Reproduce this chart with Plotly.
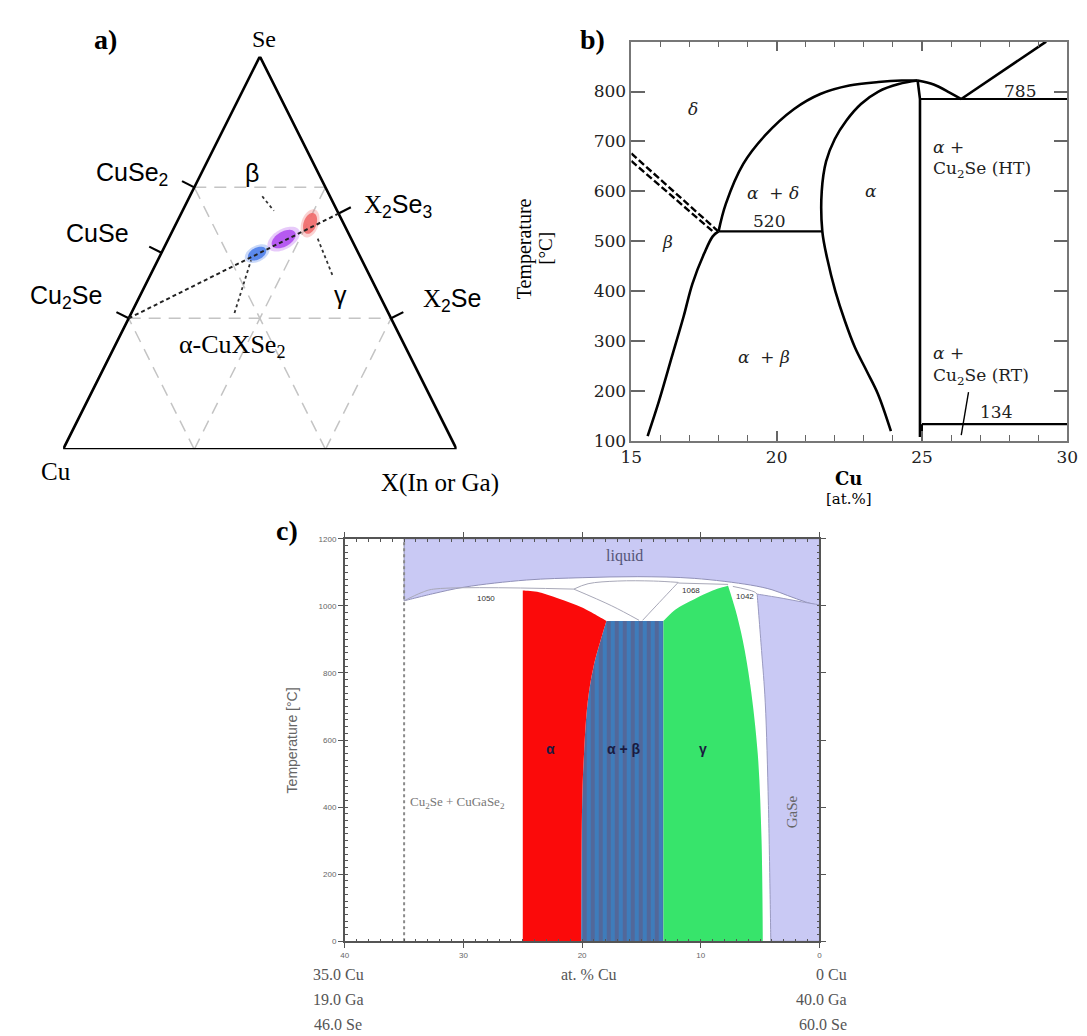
import numpy as np
import plotly.graph_objects as go

W, H = 1087, 1036

# ================= Panel a : Cu - X - Se ternary (at.% Cu, X, Se) =================
left_names = ["Cu<sub>2</sub>Se", "CuSe", "CuSe<sub>2</sub>"]
left_se = [100 / 3, 50.0, 200 / 3]            # Cu-Se binary (X = 0)
right_names = ["X<sub>2</sub>Se", "X<sub>2</sub>Se<sub>3</sub>"]
right_se = [100 / 3, 60.0]                    # X-Se binary (Cu = 0)
tie_cu = [200 / 3, 0.0]                       # Cu2Se -> X2Se3 pseudo-binary
tie_x = [0.0, 40.0]
tie_se = [100 / 3, 60.0]
phase_labels = ["α-CuXSe<sub>2</sub>", "β", "γ"]
phase_cu = [25.8, 17.2, 8.5]
phase_x = [24.4, 29.3, 34.0]
phase_se = [49.8, 53.5, 57.5]
phase_colors = ["#4f80ea", "#b04ef0", "#f06a6a"]
grid_levels = [100 / 3, 200 / 3]
# dotted leaders (label end -> phase end), order alpha, beta, gamma
lead_cu0 = [39.1, 17.2, 8.5]
lead_x0 = [26.2, 18.4, 37.9]
lead_se0 = [34.7, 64.4, 53.6]
lead_cu1 = [28.2, 16.1, 9.4]
lead_x1 = [23.7, 23.2, 46.3]
lead_se1 = [48.1, 60.7, 44.3]

# ================= Panel b : Cu2Se - In2Se3 section =================
b_beta_x = [15.56, 15.95, 16.4, 16.8, 17.1, 17.5, 17.8, 18.0]
b_beta_y = [110, 180, 270, 350, 415, 475, 510, 520]
b_delta_x = [18.0, 18.25, 18.85, 19.6, 20.6, 21.5, 22.5, 23.5, 24.3, 24.85]
b_delta_y = [520, 575, 655, 712, 765, 795, 812, 819, 822, 822]
b_alpha_x = [24.85, 24.2, 23.5, 22.9, 22.4, 22.0, 21.7, 21.55, 21.57, 21.74,
             22.02, 22.35, 22.69, 23.1, 23.48, 23.93]
b_alpha_y = [822, 815, 800, 775, 742, 705, 660, 600, 520, 465,
             400, 340, 288, 240, 195, 120]
b_liq_x = [24.85, 25.4, 25.95, 26.35]
b_liq_y = [822, 814, 798, 785]
b_liq2_x = [26.35, 29.27]
b_liq2_y = [785, 900]
b_cu2se_x = [24.85, 24.93, 24.93]
b_cu2se_y = [822, 785, 108]
b_iso_T = [520, 785, 134]
b_iso_x0 = [18.0, 24.93, 25.0]
b_iso_x1 = [21.57, 30.0, 30.0]
b_stub_x = [25.0, 25.0]
b_stub_y = [134, 108]
b_ptr_x = [26.6, 26.35]
b_ptr_y = [198, 112]
b_dash_x0 = [15.0, 15.0]
b_dash_y0 = [676, 661]
b_dash_x1 = [17.97, 17.88]
b_dash_y1 = [521, 516]
b_labels = ["<i>δ</i>", "<i>α</i>  + <i>δ</i>", "<i>α</i>", "520", "<i>β</i>",
            "<i>α</i>  + <i>β</i>", "785", "134"]
b_lab_x = [17.13, 19.89, 23.26, 19.72, 16.24, 19.55, 28.37, 27.53]
b_lab_y = [765, 597, 600, 540, 498, 268, 801, 159]
b_left_labels = ["<i>α</i> +", "Cu<sub>2</sub>Se (HT)", "<i>α</i> +", "Cu<sub>2</sub>Se (RT)"]
b_left_lab_x = [25.3, 25.3, 25.3, 25.3]
b_left_lab_y = [688, 643, 276, 229]
b_yticks = [100, 200, 300, 400, 500, 600, 700, 800]

# ================= Panel c : Cu2Se - GaSe section =================
c_liq_x = [35, 32.6, 29.9, 24.7, 20, 15.3, 10.55, 5.8, 4.0, 2.7, 1.2, 0]
c_liq_y = [1015, 1036, 1056, 1077, 1084, 1087, 1082, 1062, 1048, 1031, 1012, 1000]
c_alpha_top_x = [25.0, 25.0, 23.8, 22.0, 20.0, 17.95]
c_alpha_top_y = [0, 1046, 1042, 1022, 995, 955]
c_alpha_right_x = [17.95, 18.27, 19.06, 19.53, 19.84, 20.0, 20.06]
c_alpha_right_y = [955, 918, 815, 713, 559, 405, 0]
c_ab_right = 13.15
c_ab_top = 955
c_gamma_x = [13.15, 13.15, 12.1, 10.55, 9.0, 7.7, 7.09, 6.46, 5.83, 5.2, 4.88, 4.76]
c_gamma_y = [0, 955, 990, 1020, 1046, 1060, 990, 897, 764, 559, 303, 0]
c_gase_x = [4.1, 4.3, 4.57, 4.88, 5.25, 3.5, 1.5, 0, 0]
c_gase_y = [0, 405, 713, 867, 1035, 1025, 1012, 1003, 0]
c_sol_x = [35, 33.5, 32.5, 20.7]
c_sol_y = [1015, 1040, 1050, 1050]
c_v1_x = [20.7, 17.5, 15.2]
c_v1_y = [1050, 1000, 957]
c_v2_x = [11.9, 13.5, 14.9]
c_v2_y = [1070, 1010, 957]
c_arc_x = [20.7, 19.5, 17.0, 14.0, 11.9]
c_arc_y = [1050, 1066, 1074, 1074, 1070]
c_1068_x = [11.9, 7.7]
c_1068_y = [1068, 1064]
c_1042_x = [7.3, 5.5, 5.25]
c_1042_y = [1058, 1042, 1035]
c_dot_x = 35
c_iso_labels = ["1050", "1068", "1042"]
c_iso_lab_x = [28.1, 10.8, 6.3]
c_iso_lab_y = [1022, 1047, 1027]
c_phase_labels = ["α", "α + β", "γ"]
c_phase_lab_x = [22.7, 16.5, 9.8]
c_phase_lab_y = [574, 574, 574]
c_left_comp = ["35.0 Cu", "19.0 Ga", "46.0 Se"]
c_right_comp = ["0 Cu", "40.0 Ga", "60.0 Se"]

SERIF = "Liberation Serif"
SANS = "Liberation Sans"
BSER = "DejaVu Serif"

# ---------------- geometry helpers ----------------
AX_L, AX_R, AX_T, AX_B = 45.0, 446.7, 45.0, 443.3
SX, SY = AX_R - AX_L, AX_B - AX_T


def tern(cu, x, se):
    cu, x, se = np.asarray(cu, float), np.asarray(x, float), np.asarray(se, float)
    tot = cu + x + se
    return (x + se / 2) / tot, se / tot


def P(px, py):
    return px / W, 1 - py / H


def sharpen(xs, ys, corners):
    """repeat corner vertices so a spline path keeps them sharp"""
    ox, oy = [], []
    for i, (a, b) in enumerate(zip(xs, ys)):
        ox.append(a)
        oy.append(b)
        if i in corners:
            ox.append(a)
            oy.append(b)
    return ox, oy


fig = go.Figure()


def line(xs, ys, ax, color="black", width=2.5, dash="solid", fill=None, fillcolor=None,
         shape="linear", **kw):
    fig.add_trace(go.Scatter(x=list(xs), y=list(ys), mode="lines", xaxis="x" + ax, yaxis="y" + ax,
                             line=dict(color=color, width=width, dash=dash, shape=shape,
                                       simplify=False),
                             fill=fill, fillcolor=fillcolor, hoverinfo="skip", showlegend=False, **kw))


A, B, C = "", "2", "3"

# ---- panel a: grid ----
for g in grid_levels:
    for (c0, x0_, s0), (c1, x1_, s1) in [((100 - g, 0, g), (0, 100 - g, g)),
                                         ((100 - g, g, 0), (0, g, 100 - g)),
                                         ((g, 100 - g, 0), (g, 0, 100 - g))]:
        x0, y0 = tern(c0, x0_, s0)
        x1, y1 = tern(c1, x1_, s1)
        line([x0, x1], [y0, y1], A, "#c4c4c4", 1.5, "12px,8px")

# ---- panel a: triangle ----
vx, vy = tern([100, 0, 0, 100], [0, 0, 100, 0], [0, 100, 0, 0])
line(vx, vy, A, "black", 2.6)


def edge_tick(p0, p1, pt, outward_sign, length=14):
    ex = (p1[0] - p0[0]) * SX
    ey = (p1[1] - p0[1]) * SY
    n = np.hypot(ex, ey)
    nx, ny = -ey / n * outward_sign, ex / n * outward_sign
    return [pt[0], pt[0] + nx * length / SX], [pt[1], pt[1] + ny * length / SY]

cu_v = tern(100, 0, 0)
se_v = tern(0, 0, 100)
x_v = tern(0, 100, 0)
for s in left_se:
    tx, ty = edge_tick(cu_v, se_v, tern(100 - s, 0, s), 1)
    line(tx, ty, A, "black", 2.2)
for s in right_se:
    tx, ty = edge_tick(x_v, se_v, tern(0, 100 - s, s), -1)
    line(tx, ty, A, "black", 2.2)

# ---- ellipses ----
ell = [(10, 6, 27), (13.5, 7.5, 30), (11, 6.5, 70)]
t = np.linspace(0, 2 * np.pi, 72)
for (a_, b_, ang), cu, xx, se, col in zip(ell, phase_cu, phase_x, phase_se, phase_colors):
    cx, cy = tern(cu, xx, se)
    for scale, op in [(1.35, 0.3), (1.0, 0.9)]:
        r = np.deg2rad(ang)
        ex = scale * (a_ * np.cos(t) * np.cos(r) - b_ * np.sin(t) * np.sin(r))
        ey = scale * (a_ * np.cos(t) * np.sin(r) + b_ * np.sin(t) * np.cos(r))
        line(cx + ex / SX, cy + ey / SY, A, "rgba(0,0,0,0)", 0, fill="toself",
             fillcolor=col, opacity=op)

tx_, ty_ = tern(tie_cu, tie_x, tie_se)
line(tx_, ty_, A, "#222", 2.0, "4px,3px")

for i in range(3):
    x0, y0 = tern(lead_cu0[i], lead_x0[i], lead_se0[i])
    x1, y1 = tern(lead_cu1[i], lead_x1[i], lead_se1[i])
    line([x0, x1], [y0, y1], A, "#333", 1.8, "dot")

# ================= panel b drawing =================
BW = 2.6
line(b_beta_x, b_beta_y, B, "black", BW, shape="spline")
line(b_delta_x, b_delta_y, B, "black", BW, shape="spline")
line(b_alpha_x, b_alpha_y, B, "black", BW, shape="spline")
line(b_liq_x, b_liq_y, B, "black", BW, shape="spline")
line(b_liq2_x, b_liq2_y, B, "black", BW)
line(b_cu2se_x, b_cu2se_y, B, "black", BW)
for T, x0, x1 in zip(b_iso_T, b_iso_x0, b_iso_x1):
    line([x0, x1], [T, T], B, "black", 2.2)
line(b_stub_x, b_stub_y, B, "black", 2.0)
line(b_ptr_x, b_ptr_y, B, "black", 1.4)
for x0, y0, x1, y1 in zip(b_dash_x0, b_dash_y0, b_dash_x1, b_dash_y1):
    line([x0, x1], [y0, y1], B, "black", 2.4, "7px,3px")

# ================= panel c drawing =================
lx = [35, 35, 0, 0] + c_liq_x[::-1][1:] + [35]
ly = [1015, 1200, 1200, 1000] + c_liq_y[::-1][1:] + [1015]
lx, ly = sharpen(lx, ly, {1, 2, 3})
line(lx, ly, C, "#9090b8", 1, fill="toself", fillcolor="#c9c9f4", shape="spline")
gx, gy = sharpen(c_gase_x, c_gase_y, {0, 4, 7, 8})
line(gx + [gx[0]], gy + [gy[0]], C, "#9a9ac0", 1, fill="toself", fillcolor="#c9c9f4",
     shape="spline")
for xs, ys in [(c_sol_x, c_sol_y), (c_v1_x, c_v1_y), (c_v2_x, c_v2_y), (c_arc_x, c_arc_y),
               (c_1068_x, c_1068_y), (c_1042_x, c_1042_y)]:
    line(xs, ys, C, "#a8a8b8", 1, shape="spline")

# alpha + beta (striped)
abx = c_alpha_right_x + [c_ab_right, c_ab_right, c_alpha_right_x[0]]
aby = c_alpha_right_y + [0, c_ab_top, c_alpha_right_y[0]]
abx, aby = sharpen(abx, aby, {0, 6, 7, 8, 9})
fig.add_trace(go.Scatter(x=abx, y=aby, mode="lines", xaxis="x3", yaxis="y3", fill="toself",
                         line=dict(width=0, color="rgba(0,0,0,0)", shape="spline", simplify=False),
                         fillcolor="#52689a",
                         fillpattern=dict(shape="|", bgcolor="#52689a", fgcolor="#2a8fdc",
                                          size=8, solidity=0.5),
                         hoverinfo="skip", showlegend=False))
# alpha (red)
rx = c_alpha_top_x + c_alpha_right_x[1:] + [c_alpha_top_x[0]]
ry = c_alpha_top_y + c_alpha_right_y[1:] + [c_alpha_top_y[0]]
rx, ry = sharpen(rx, ry, {0, 1, 5, 11, 12})
line(rx, ry, C, "rgba(0,0,0,0)", 0, fill="toself", fillcolor="#fb0a0a", shape="spline")
# gamma (green)
gmx, gmy = sharpen(c_gamma_x + [c_gamma_x[0]], c_gamma_y + [c_gamma_y[0]], {0, 1, 5, 11, 12})
line(gmx, gmy, C, "rgba(0,0,0,0)", 0, fill="toself", fillcolor="#37e46b", shape="spline")
# dotted vertical
line([c_dot_x, c_dot_x], [0, 1200], C, "#8a8a8a", 2, "dot")

# ================= annotations =================
ann = []


def note(text, x, y, size, family, color="black", xref="paper", yref="paper", xanchor="center",
         yanchor="middle", angle=0):
    ann.append(dict(text=text, x=x, y=y, xref=xref, yref=yref, showarrow=False, xanchor=xanchor,
                    yanchor=yanchor, textangle=angle, font=dict(size=size, family=family, color=color)))


def notep(text, px, py, size, family, color="black", **kw):
    x, y = P(px, py)
    note(text, x, y, size, family, color, **kw)

# panel a labels
notep("<b>a)</b>", 88, 28, 28, SERIF)
notep("Se", 250, 27, 24, SERIF)
notep("Cu", 38, 466, 25, SERIF)
notep("X(In or Ga)", 430, 477, 25, SERIF)
left_lab_px = [(48, 289), (80, 224), (115, 164)]
for name, (px, py) in zip(left_names, left_lab_px):
    notep(name, px, py, 25, SANS)
right_lab_px = [(442, 292), (387, 197)]
for name, (px, py) in zip(right_names, right_lab_px):
    txt = name.replace("X", '<span style="font-family:Liberation Serif">X</span>', 1)
    notep(txt, px, py, 25, SANS)
phase_lab_px = [(218, 339), (238, 163), (328, 287)]
for name, (px, py), fam in zip(phase_labels, phase_lab_px, [SERIF, SANS, SANS]):
    notep(name, px, py, 25 if fam == SANS else 26, fam)

# panel b labels
notep("<b>b)</b>", 585, 28, 28, SERIF)
notep("Temperature", 516, 240, 20, SERIF, angle=-90)
notep("[°C]", 538, 240, 19, SERIF, angle=-90)
notep("<b>Cu</b>", 847, 473, 18, BSER)
notep("[at.%]", 847, 494, 15, BSER)
for txt, x, y in zip(b_labels, b_lab_x, b_lab_y):
    note(txt, x, y, 17, BSER, "#222", xref="x2", yref="y2")
for txt, x, y in zip(b_left_labels, b_left_lab_x, b_left_lab_y):
    note(txt, x, y, 17, BSER, "#222", xref="x2", yref="y2", xanchor="left")

# panel c labels
notep("<b>c)</b>", 274, 526, 28, SERIF)
notep("Temperature [°C]", 279, 738, 14, SANS, "#666", angle=-90)
note("liquid", 16.4, 1148, 16, SERIF, "#555577", xref="x3", yref="y3")
for txt, x, y in zip(c_iso_labels, c_iso_lab_x, c_iso_lab_y):
    note(txt, x, y, 8, SANS, "#333", xref="x3", yref="y3")
note("Cu<sub>2</sub>Se + CuGaSe<sub>2</sub>", 34.7, 415, 13, SERIF, "#777", xref="x3", yref="y3",
     xanchor="left")
note("GaSe", 2.3, 385, 15, SERIF, "#666", xref="x3", yref="y3", angle=-90)
for txt, x, y in zip(c_phase_labels, c_phase_lab_x, c_phase_lab_y):
    note("<b>" + txt + "</b>", x, y, 14, SANS, "#1a1a40", xref="x3", yref="y3")
for i, txt in enumerate(c_left_comp):
    notep(txt, 326, 976 + 25 * i, 16, SERIF, "#555")
    notep(c_right_comp[i], 847, 976 + 25 * i, 16, SERIF, "#555", xanchor="right")
notep("at. % Cu", 582, 976, 16, SERIF, "#555")

# ================= layout =================
def dom_x(l, r):
    return [l / W, r / W]


def dom_y(t_, b_):
    return [1 - b_ / H, 1 - t_ / H]

hidden = dict(visible=False, showgrid=False, zeroline=False, fixedrange=True)

fig.update_layout(
    width=W, height=H, margin=dict(l=0, r=0, t=0, b=0),
    paper_bgcolor="white", plot_bgcolor="rgba(0,0,0,0)", showlegend=False,
    annotations=ann,
    xaxis=dict(domain=dom_x(AX_L, AX_R), range=[0, 1], anchor="y", **hidden),
    yaxis=dict(domain=dom_y(AX_T, AX_B), range=[0, 1], anchor="x", **hidden),
    xaxis2=dict(domain=dom_x(625, 1070), range=[15, 30], anchor="y2", showgrid=False,
                zeroline=False, showline=True, linecolor="#777", linewidth=1.5, mirror="allticks",
                ticks="inside", ticklen=10, tickwidth=1.5, tickcolor="#666", dtick=5, tick0=15,
                tickfont=dict(family=BSER, size=17, color="#222"),
                minor=dict(dtick=1, tick0=15, ticks="inside", ticklen=6, tickwidth=1.3,
                           tickcolor="#666", showgrid=False)),
    yaxis2=dict(domain=dom_y(30, 435), range=[100, 900], anchor="x2", showgrid=False,
                zeroline=False, showline=True, linecolor="#777", linewidth=1.5, mirror="allticks",
                ticks="inside", ticklen=14, tickwidth=1.5, tickcolor="#666",
                tickmode="array", tickvals=b_yticks,
                tickfont=dict(family=BSER, size=17, color="#222")),
    xaxis3=dict(domain=dom_x(332.5, 817), range=[40, 0], anchor="y3", showgrid=False,
                zeroline=False, showline=True, linecolor="#555", linewidth=1.5, mirror="allticks",
                ticks="outside", ticklen=5, tickwidth=1.2, tickcolor="#555", dtick=10, tick0=0,
                tickfont=dict(family=SANS, size=8, color="#666"),
                minor=dict(dtick=1, tick0=0, ticks="inside", ticklen=3, tickwidth=1,
                           tickcolor="#555", showgrid=False)),
    yaxis3=dict(domain=dom_y(534, 942), range=[0, 1200], anchor="x3", showgrid=False,
                zeroline=False, showline=True, linecolor="#555", linewidth=1.5, mirror="allticks",
                ticks="outside", ticklen=5, tickwidth=1.2, tickcolor="#555", dtick=200, tick0=0,
                tickfont=dict(family=SANS, size=8, color="#666"),
                minor=dict(dtick=20, tick0=0, ticks="inside", ticklen=3, tickwidth=1,
                           tickcolor="#555", showgrid=False)),
)

fig.write_html("out.html")
